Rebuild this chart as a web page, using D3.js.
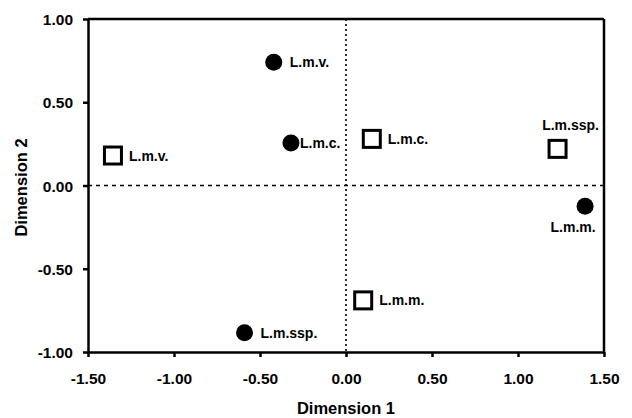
<!DOCTYPE html>
<html>
<head>
<meta charset="utf-8">
<script src="https://cdn.jsdelivr.net/npm/d3@7"></script>
<style>
  body { margin: 0; background: #fff; }
  text { font-family: "Liberation Sans", Arial, sans-serif; font-weight: bold; fill: #000; }
</style>
</head>
<body>
<div class="container"></div>
<script>
// tamaño y margenes
const width = 632
const height = 418
const margin = { top: 19, right: 28, bottom: 66, left: 88 }

// datos
const labels = ["L.m.v.", "L.m.c.", "L.m.ssp.", "L.m.m."]
const circleX = [-0.42, -0.32, -0.59, 1.39]
const circleY = [0.74, 0.255, -0.885, -0.125]
const squareX = [-1.355, 0.15, 1.23, 0.10]
const squareY = [0.18, 0.28, 0.22, -0.69]
const xTicks = [-1.5, -1.0, -0.5, 0, 0.5, 1.0, 1.5]
const yTicks = [-1.0, -0.5, 0, 0.5, 1.0]

// donde va cada etiqueta respecto al marcador
const circleLabelPos = ["right", "tight", "right", "below"]
const squareLabelPos = ["right", "right", "above", "right"]

const svg = d3.select(".container").append("svg").attr("width", width).attr("height", height)

const x = d3.scaleLinear().domain([-1.5, 1.5]).range([margin.left, width - margin.right])
const y = d3.scaleLinear().domain([-1, 1]).range([height - margin.bottom, margin.top])

// lineas de referencia en cero
svg.append("line")
    .attr("x1", x(0)).attr("x2", x(0)).attr("y1", y(1)).attr("y2", y(-1))
    .attr("stroke", "#000").attr("stroke-width", 1.6).attr("stroke-dasharray", "2,3")
svg.append("line")
    .attr("x1", x(-1.5)).attr("x2", x(1.5)).attr("y1", y(0)).attr("y2", y(0))
    .attr("stroke", "#000").attr("stroke-width", 1.3).attr("stroke-dasharray", "4,4")

// ejes
const fmt = d => d.toFixed(2)
const xAxis = d3.axisBottom(x).tickValues(xTicks).tickFormat(fmt).tickSize(5).tickSizeOuter(0)
const yAxis = d3.axisLeft(y).tickValues(yTicks).tickFormat(fmt).tickSize(5).tickSizeOuter(0)

const xAxisGroup = svg.append("g").attr("transform", `translate(0, ${y(-1)})`).call(xAxis)
const yAxisGroup = svg.append("g").attr("transform", `translate(${x(-1.5)}, 0)`).call(yAxis)

// marco superior y derecho
svg.append("line").attr("x1", x(-1.5)).attr("x2", x(1.5)).attr("y1", y(1)).attr("y2", y(1))
    .attr("stroke", "#000").attr("stroke-width", 2.5)
svg.append("line").attr("x1", x(1.5)).attr("x2", x(1.5)).attr("y1", y(1)).attr("y2", y(-1))
    .attr("stroke", "#000").attr("stroke-width", 2.5)

;[xAxisGroup, yAxisGroup].forEach(g => {
    g.select(".domain").attr("stroke-width", 2.5)
    g.selectAll(".tick line").attr("stroke-width", 2.5)
    g.selectAll(".tick text")
        .style("font-size", "15.5px").style("font-weight", "bold")
        .style("font-family", "'Liberation Sans', Arial, sans-serif")
})
xAxisGroup.selectAll(".tick text").attr("y", 0).attr("dy", 0).attr("transform", "translate(0, 32)")
yAxisGroup.selectAll(".tick text").attr("x", -15).attr("dy", "0.36em")

// titulos de ejes
svg.append("text")
    .attr("x", x(0)).attr("y", 414)
    .attr("text-anchor", "middle").style("font-size", "16.5px")
    .text("Dimension 1")
svg.append("text")
    .attr("transform", `translate(27, ${y(0) + 2}) rotate(-90)`)
    .attr("text-anchor", "middle").style("font-size", "16.5px")
    .text("Dimension 2")

// circulos
svg.selectAll("circle.pt").data(labels)
    .join("circle")
    .attr("class", "pt")
    .attr("cx", (d, i) => x(circleX[i]))
    .attr("cy", (d, i) => y(circleY[i]))
    .attr("r", 8.5)
    .attr("fill", "#000")

// cuadrados
const side = 17
svg.selectAll("rect.pt").data(labels)
    .join("rect")
    .attr("class", "pt")
    .attr("x", (d, i) => x(squareX[i]) - side / 2)
    .attr("y", (d, i) => y(squareY[i]) - side / 2)
    .attr("width", side).attr("height", side)
    .attr("fill", "#fff").attr("stroke", "#000").attr("stroke-width", 3)

function placeLabel(px, py, pos, text) {
    const t = svg.append("text").style("font-size", "14px").text(text)
    if (pos === "right") {
        t.attr("x", px + 16).attr("y", py + 5)
    } else if (pos === "tight") {
        t.attr("x", px + 9).attr("y", py + 5)
    } else if (pos === "above") {
        t.attr("x", px + 13).attr("y", py - 19).attr("text-anchor", "middle")
    } else {
        t.attr("x", px - 12).attr("y", py + 26).attr("text-anchor", "middle")
    }
}

labels.forEach((d, i) => {
    placeLabel(x(circleX[i]), y(circleY[i]), circleLabelPos[i], d)
    placeLabel(x(squareX[i]), y(squareY[i]), squareLabelPos[i], d)
})
</script>
</body>
</html>
